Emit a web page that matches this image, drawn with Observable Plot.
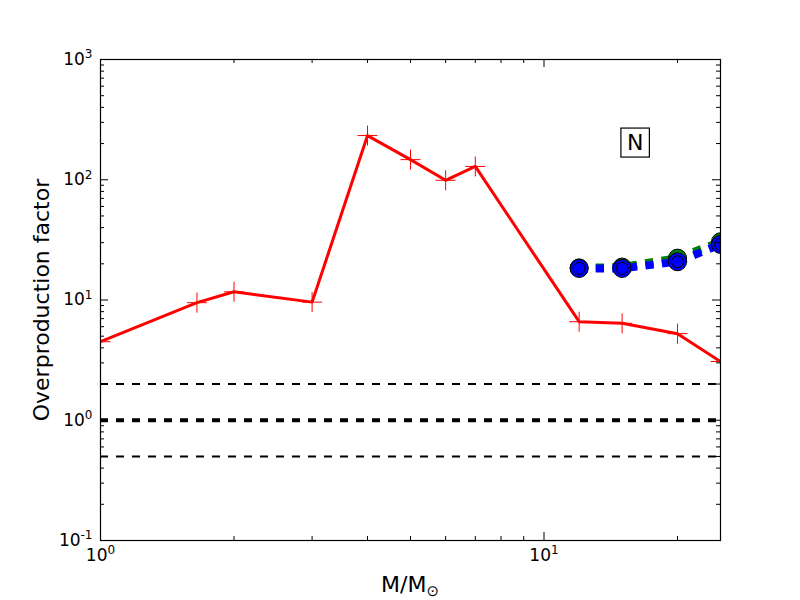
<!DOCTYPE html>
<html><head><meta charset="utf-8">
<script src="https://cdn.jsdelivr.net/npm/d3@7"></script>
<script src="https://cdn.jsdelivr.net/npm/@observablehq/plot@0.6"></script>
<style>body{margin:0;background:#fff}</style>
</head><body><div id="chart"></div>
<script>
// ---- data ----
const massRed = [1, 1.65, 2, 3, 4, 5, 6, 7, 12, 15, 20, 25];
const factorRed = [4.5, 9.5, 11.7, 9.6, 233, 147, 99, 129, 6.6, 6.4, 5.25, 3.08];
const massModel = [12, 15, 20, 25];
const factorGreen = [18.5, 18.8, 22.3, 30.5];
const factorBlue = [18.3, 18.3, 20.8, 29.0];
const refLevels = [2, 1, 0.5];
const refWidths = [2, 4, 2];
const xMajor = [1, 10];
const xMinor = [2, 3, 4, 5, 6, 7, 8, 9, 20];
const yMajor = [0.1, 1, 10, 100, 1000];
const yMinorFactors = [2, 3, 4, 5, 6, 7, 8, 9];
const panelLabel = "N";
const panelPos = {x: 16.05, y: 202};
const xLabel = "M/M";
const xLabelSub = "\u2299";
const yLabel = "Overproduction factor";

// ---- layout ----
const W = 800, H = 600, mL = 100, mR = 80, mT = 59, mB = 60;
const pw = W - mL - mR, ph = H - mT - mB;

const red = massRed.map((m, i) => ({m, f: factorRed[i]}));
const green = massModel.map((m, i) => ({m, f: factorGreen[i]}));
const blue = massModel.map((m, i) => ({m, f: factorBlue[i]}));
const yMinor = yMajor.slice(0, -1).flatMap(d => yMinorFactors.map(k => d * k));
const refs = refLevels.map((v, i) => ({v, w: refWidths[i]}));

const plusSymbol = {
  draw(ctx, size) {
    const r = Math.sqrt(size / Math.PI);
    ctx.moveTo(-r, 0); ctx.lineTo(r, 0);
    ctx.moveTo(0, -r); ctx.lineTo(0, r);
  }
};
const fmt = d => "10^" + Math.round(Math.log10(d));

const plot = Plot.plot({
  width: W, height: H,
  marginLeft: mL, marginRight: mR, marginTop: mT, marginBottom: mB,
  style: {fontFamily: "DejaVu Sans", background: "white", color: "black"},
  x: {type: "log", domain: [1, 25]},
  y: {type: "log", domain: [0.1, 1000]},
  marks: [
    Plot.ruleY(refs, {y: "v", stroke: "black", strokeWidth: "w", strokeDasharray: "8,8"}),
    Plot.line(red, {x: "m", y: "f", stroke: "#ff0000", strokeWidth: 3, clip: true}),
    Plot.dot(red, {x: "m", y: "f", symbol: plusSymbol, r: 10, stroke: "#ff0000", strokeWidth: 1, clip: true}),
    Plot.line(green, {x: "m", y: "f", stroke: "#008000", strokeWidth: 8, strokeDasharray: "8.3,8.3", strokeLinecap: "butt", clip: true}),
    Plot.dot(green, {x: "m", y: "f", r: 9, fill: "#008000", stroke: "black", strokeWidth: 1, clip: true}),
    Plot.line(blue, {x: "m", y: "f", stroke: "#0000ff", strokeWidth: 8, strokeDasharray: "8.3,8.3", strokeLinecap: "butt", clip: true}),
    Plot.dot(blue, {x: "m", y: "f", r: 9, fill: "#0000ff", stroke: "black", strokeWidth: 1, clip: true}),
    Plot.dot(blue, {x: "m", y: "f", r: 6, fill: "#0000ff", stroke: "black", strokeWidth: 1, clip: true}),
    Plot.text([panelLabel], {x: () => panelPos.x, y: () => panelPos.y, text: d => d, fontSize: 22}),
    // ticks (inward, all four sides)
    Plot.tickX(xMajor, {x: d => d, insetTop: ph - 8, stroke: "black", strokeWidth: 1}),
    Plot.tickX(xMajor, {x: d => d, insetBottom: ph - 8, stroke: "black", strokeWidth: 1}),
    Plot.tickX(xMinor, {x: d => d, insetTop: ph - 4, stroke: "black", strokeWidth: 1}),
    Plot.tickX(xMinor, {x: d => d, insetBottom: ph - 4, stroke: "black", strokeWidth: 1}),
    Plot.tickY(yMajor, {y: d => d, insetRight: pw - 8, stroke: "black", strokeWidth: 1}),
    Plot.tickY(yMajor, {y: d => d, insetLeft: pw - 8, stroke: "black", strokeWidth: 1}),
    Plot.tickY(yMinor, {y: d => d, insetRight: pw - 4, stroke: "black", strokeWidth: 1}),
    Plot.tickY(yMinor, {y: d => d, insetLeft: pw - 4, stroke: "black", strokeWidth: 1}),
    // tick labels
    Plot.axisX(xMajor, {anchor: "bottom", tickSize: 0, tickPadding: 8, tickFormat: fmt, fontSize: 17, label: null}),
    Plot.axisY(yMajor, {anchor: "left", tickSize: 0, tickPadding: 8, tickFormat: fmt, fontSize: 17, label: null}),
    Plot.text([yLabel], {frameAnchor: "left", text: d => d, dx: -59, rotate: -90, textAnchor: "middle", fontSize: 22}),
    Plot.frame({stroke: "black", strokeWidth: 1.2})
  ]
});

document.getElementById("chart").appendChild(plot);
const svg = d3.select(plot);

// superscript exponents in tick labels
svg.selectAll("text").each(function () {
  const s = this.textContent;
  if (!s.startsWith("10^")) return;
  const t = d3.select(this);
  t.text("");
  t.append("tspan").text("10");
  t.append("tspan").attr("font-size", "12px").attr("dy", "-0.55em").text(s.slice(3));
});

// boxed panel label
svg.selectAll("text").filter(function () { return this.textContent === panelLabel; }).each(function () {
  const b = this.getBBox();
  const parent = this.parentNode;
  d3.select(parent).insert("rect", () => this)
    .attr("transform", this.getAttribute("transform"))
    .attr("x", b.x + (+this.getAttribute("x") || 0) - 6)
    .attr("y", b.y - 2)
    .attr("width", b.width + 12).attr("height", b.height + 4)
    .attr("fill", "white").attr("stroke", "black").attr("stroke-width", 1.2);
});

// x-axis label with subscript sun symbol
const xl = svg.append("text")
  .attr("x", mL + pw / 2).attr("y", H - 8)
  .attr("text-anchor", "middle")
  .attr("font-family", "DejaVu Sans").attr("font-size", 22).attr("fill", "black");
xl.append("tspan").text(xLabel);
xl.append("tspan").attr("font-size", 15).attr("dy", 4).text(xLabelSub);
</script>
</body></html>
